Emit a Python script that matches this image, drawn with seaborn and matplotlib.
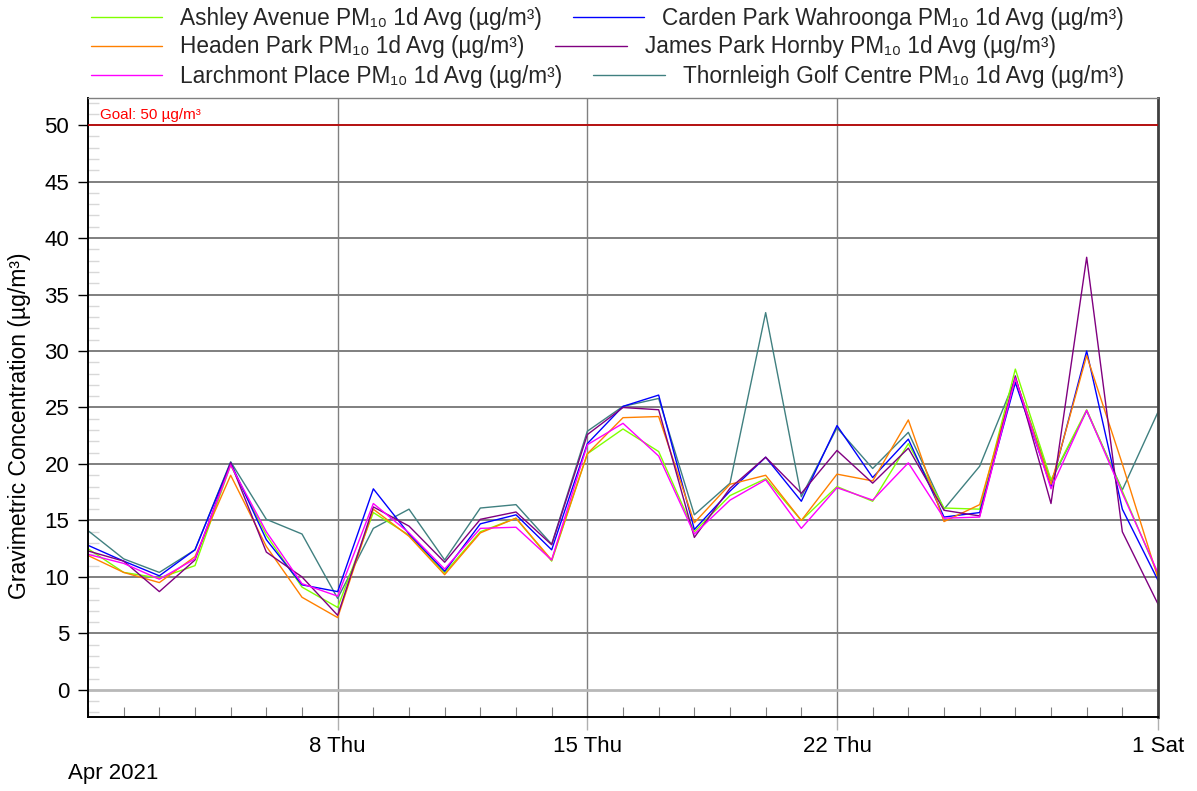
import pandas as pd
import numpy as np
import matplotlib
matplotlib.use("Agg")
import matplotlib.pyplot as plt
import matplotlib.dates as mdates
import seaborn as sns

# =========================
# DATA
# =========================
dates = pd.date_range("2021-04-01", "2021-05-01", freq="D")

ashley = [12.5, 10.4, 9.9, 11.0, 19.9, 13.7, 9.1, 7.3, 15.7, 13.7, 10.35,
          14.0, 15.2, 11.4, 20.9, 23.1, 21.1, 14.0, 17.2, 18.7, 15.0,
          18.0, 16.7, 21.8, 16.1, 16.0, 28.4, 18.6, 24.8, 17.6, 10.2]
carden = [12.8, 11.4, 10.1, 12.4, 20.1, 13.3, 9.3, 8.7, 17.8, 13.8, 10.5,
          14.7, 15.5, 12.4, 21.8, 25.1, 26.1, 14.2, 17.6, 20.6, 16.7,
          23.4, 18.8, 22.2, 15.3, 15.7, 27.2, 18.0, 30.0, 16.0, 9.7]
headen = [11.9, 10.4, 9.5, 11.8, 19.0, 12.7, 8.2, 6.4, 16.0, 13.6, 10.2,
          13.9, 15.2, 11.5, 20.9, 24.1, 24.2, 14.8, 18.2, 19.0, 15.0,
          19.1, 18.5, 23.9, 14.9, 16.4, 27.6, 18.2, 29.6, 20.0, 9.9]
james = [12.3, 11.4, 8.7, 11.5, 20.1, 12.2, 10.0, 6.6, 16.2, 14.5, 11.3,
         15.1, 15.75, 12.85, 22.6, 25.0, 24.8, 13.5, 17.85, 20.6, 17.4,
         21.2, 18.3, 21.4, 15.9, 15.4, 27.8, 16.5, 38.3, 14.0, 7.6]
larchmont = [12.0, 11.2, 9.8, 11.6, 19.9, 14.0, 9.4, 8.3, 16.5, 13.9, 10.7,
             14.3, 14.4, 11.5, 21.7, 23.6, 20.7, 13.8, 16.8, 18.6, 14.3,
             17.9, 16.8, 20.1, 15.2, 15.3, 27.6, 17.8, 24.75, 17.4, 10.35]
thornleigh = [14.1, 11.6, 10.4, 12.4, 20.2, 15.1, 13.8, 8.1, 14.3, 16.0, 11.5,
              16.1, 16.4, 12.9, 22.9, 25.1, 25.8, 15.5, 18.3, 33.4, 17.1,
              23.2, 19.6, 22.8, 16.0, 19.8, 27.55, 18.5, 24.7, 17.7, 24.6]

series_names = [
    "Ashley Avenue PM₁₀ 1d Avg (µg/m³)",
    "Carden Park Wahroonga PM₁₀ 1d Avg (µg/m³)",
    "Headen Park PM₁₀ 1d Avg (µg/m³)",
    "James Park Hornby PM₁₀ 1d Avg (µg/m³)",
    "Larchmont Place PM₁₀ 1d Avg (µg/m³)",
    "Thornleigh Golf Centre PM₁₀ 1d Avg (µg/m³)",
]
series_values = [ashley, carden, headen, james, larchmont, thornleigh]
series_colors = ["#80ff00", "#0000ff", "#ff8000", "#800080", "#ff00ff", "#408080"]

goal = 50
goal_label = "Goal: 50 µg/m³"

x_tick_dates = pd.to_datetime(["2021-04-08", "2021-04-15", "2021-04-22", "2021-05-01"])
x_tick_labels = ["8 Thu", "15 Thu", "22 Thu", "1 Sat"]
month_label = "Apr 2021"

df = pd.concat(
    [pd.DataFrame({"date": dates, "value": v, "series": n})
     for n, v in zip(series_names, series_values)],
    ignore_index=True,
)

# =========================
# STYLE
# =========================
sns.set_theme(style="white")
plt.rcParams["font.family"] = ["Liberation Sans", "DejaVu Sans"]

fig = plt.figure(figsize=(11.97, 7.91), dpi=100)
ax = fig.add_axes([88 / 1197, 1 - 717 / 791, 1070 / 1197, 619 / 791])

palette = dict(zip(series_names, series_colors))
sns.lineplot(data=df, x="date", y="value", hue="series", hue_order=series_names,
             palette=palette, linewidth=1.0, ax=ax, legend=True)

# teal line sits under the others
for line in ax.get_lines():
    if line.get_color() == "#408080":
        line.set_zorder(1.5)

handles, labels = ax.get_legend_handles_labels()
ax.get_legend().remove()

# =========================
# AXES
# =========================
ax.set_xlim(dates[0], dates[-1])
ax.set_ylim(-2.4, 52.4)
ax.set_yticks(np.arange(0, 55, 5))
ax.yaxis.set_minor_locator(matplotlib.ticker.MultipleLocator(1))
ax.set_xticks(x_tick_dates)
ax.set_xticklabels(x_tick_labels)
ax.xaxis.set_minor_locator(mdates.DayLocator())

ax.set_xlabel("")
ax.set_ylabel("Gravimetric Concentration (µg/m³)", fontsize=16.5, color="black")
ax.yaxis.set_label_coords(-0.053, 0.47)

ax.tick_params(axis="y", which="major", direction="out", length=7.5, width=1,
               color="black", labelsize=16, pad=6, labelcolor="black", left=True)
ax.tick_params(axis="y", which="minor", direction="in", length=8, width=1,
               color="#d8d8d8", left=True)
ax.tick_params(axis="x", which="major", direction="out", length=9, width=1,
               color="#b0b0b0", labelsize=16, pad=5, labelcolor="black", bottom=True)
ax.tick_params(axis="x", which="minor", direction="in", length=7.5, width=0.8,
               color="#808080", bottom=True)

ax.grid(axis="y", which="major", color="#7f7f7f", linewidth=1.4)
ax.grid(axis="x", which="major", color="#808080", linewidth=1.0)
ax.yaxis.get_major_ticks()[0].gridline.set_color("#b8b8b8")
ax.yaxis.get_major_ticks()[0].gridline.set_linewidth(2.0)

for side in ["left", "bottom"]:
    ax.spines[side].set_color("black")
    ax.spines[side].set_linewidth(1.4)
ax.spines["top"].set_color("#808080")
ax.spines["top"].set_linewidth(1.0)
ax.spines["right"].set_color("#404040")
ax.spines["right"].set_linewidth(2.0)

# =========================
# GOAL LINE
# =========================
ax.axhline(goal, color="#c00000", linewidth=1.2, zorder=3)
ax.annotate(goal_label, xy=(0, goal), xycoords=("axes fraction", "data"),
            xytext=(12, 3), textcoords="offset pixels",
            color="#ff0000", fontsize=11, va="bottom", ha="left")

fig.text(68 / 1197, 1 - 773 / 791, month_label, fontsize=16,
         ha="left", va="center", color="black")

# =========================
# LEGEND (one row per pair)
# =========================
row_y = [18, 47, 76]
for r in range(3):
    pair = [2 * r, 2 * r + 1]
    fig.legend([handles[i] for i in pair], [labels[i] for i in pair],
               loc="center left", bbox_to_anchor=(91 / 1197, 1 - row_y[r] / 791),
               ncol=2, frameon=False, fontsize=16.3, handlelength=3.15,
               handletextpad=0.8, columnspacing=1.35, borderpad=0,
               borderaxespad=0)

fig.savefig("out.png", dpi=100)
plt.close()
